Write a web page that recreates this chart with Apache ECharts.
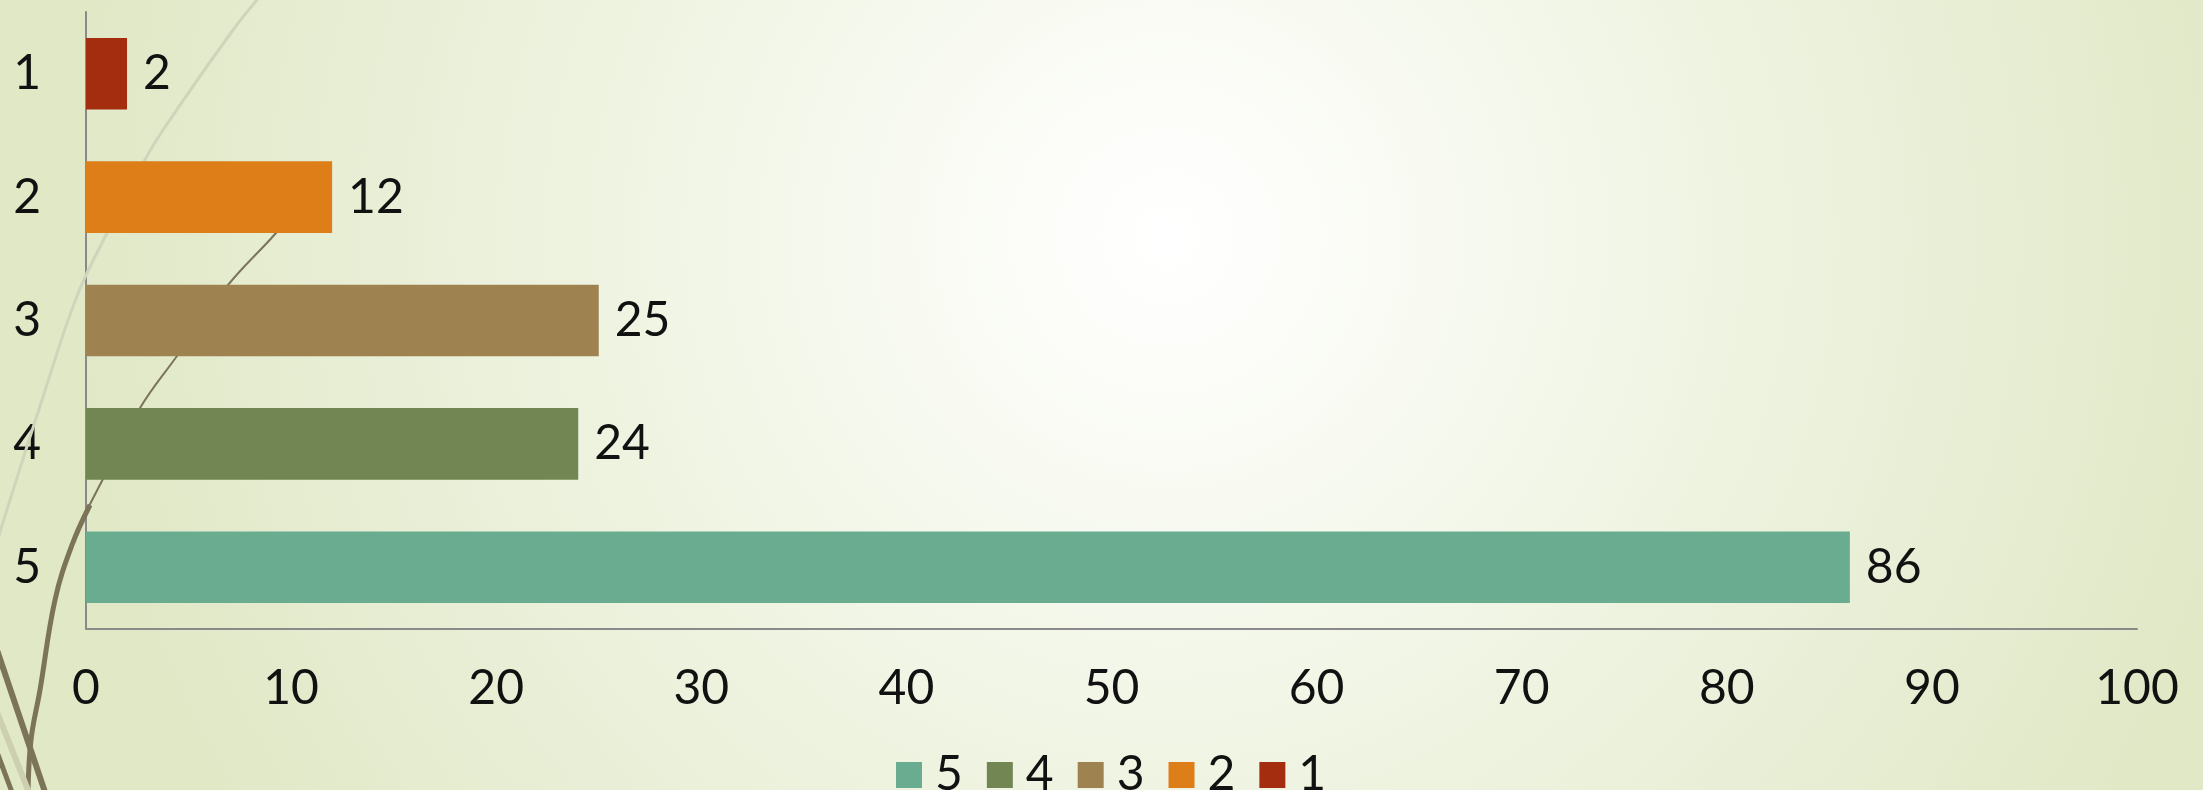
<!DOCTYPE html>
<html>
<head>
<meta charset="utf-8">
<title>bar</title>
<script src="https://cdn.jsdelivr.net/npm/echarts@6/dist/echarts.min.js"></script>
<style>
    html, body { margin: 0; padding: 0; }
    #main { width: 2203px; height: 790px; }
</style>
</head>
<body>
<div id="main"></div>
<script>
// data
var categories = ['1', '2', '3', '4', '5'];
var values = [2, 12, 25, 24, 86];
var colors = ['#a42c0f', '#de7e18', '#9e8250', '#718652', '#69ac90'];
var legendOrder = ['5', '4', '3', '2', '1'];
var xTicks = { min: 0, max: 100, interval: 10 };

var fontName = 'Lato, "Open Sans", sans-serif';

// one series per category so the legend lists each bar
var series = [];
for (var i = 0; i < categories.length; i++) {
    var d = [];
    for (var j = 0; j < categories.length; j++) {
        d.push(j == i ? values[i] : null);
    }
    series.push({
        name: categories[i],
        type: 'bar',
        stack: 'all',
        barCategoryGap: '42%',
        data: d,
        itemStyle: { color: colors[i] },
        label: {
            show: true,
            position: 'right',
            distance: 16,
            color: '#111',
            fontSize: 48,
            fontFamily: fontName
        }
    });
}

// background decoration (theme curves)
var deco = [
    {
        type: 'polyline', z: 1, silent: true,
        shape: { points: [[262, -6], [233, 30], [163, 130], [143, 163], [107, 233], [77, 296], [42, 400], [10, 500], [-4, 545]], smooth: 0.4 },
        style: { stroke: '#d0d4bb', lineWidth: 3, fill: null }
    },
    {
        type: 'polyline', z: 1, silent: true,
        shape: { points: [[320, 180], [276, 233], [228, 285], [177, 356], [140, 408], [103, 479], [87, 510]], smooth: 0.4 },
        style: { stroke: '#7b7458', lineWidth: 2, fill: null }
    },
    {
        type: 'polyline', z: 1, silent: true,
        shape: { points: [[90, 505], [72, 545], [55, 600], [40, 690], [31, 740], [28, 795]], smooth: 0.4 },
        style: { stroke: '#7b7458', lineWidth: 5, fill: null }
    },
    {
        type: 'line', z: 1, silent: true,
        shape: { x1: -3, y1: 650, x2: 46, y2: 795 },
        style: { stroke: '#7b7458', lineWidth: 6 }
    },
    {
        type: 'line', z: 1, silent: true,
        shape: { x1: -3, y1: 712, x2: 30, y2: 795 },
        style: { stroke: '#cdd0b0', lineWidth: 6 }
    },
    {
        type: 'line', z: 1, silent: true,
        shape: { x1: -3, y1: 752, x2: 13, y2: 795 },
        style: { stroke: '#7b7458', lineWidth: 5 }
    }
];

var option = {
    animation: false,
    backgroundColor: {
        type: 'radial',
        x: 0.53,
        y: 0.3,
        r: 1.4,
        colorStops: [
            { offset: 0, color: '#ffffff' },
            { offset: 0.12, color: '#fcfdf9' },
            { offset: 0.5, color: '#eff4e2' },
            { offset: 1, color: '#e0e8c6' }
        ]
    },
    graphic: deco,
    grid: {
        left: 86,
        right: 66,
        top: 12,
        bottom: 161
    },
    legend: {
        data: legendOrder,
        left: 891,
        top: 746,
        icon: 'rect',
        itemWidth: 26,
        itemHeight: 26,
        itemGap: 24,
        textStyle: {
            color: '#111',
            fontSize: 48,
            fontFamily: fontName,
            padding: [0, 0, 0, 8]
        }
    },
    xAxis: {
        type: 'value',
        min: xTicks.min,
        max: xTicks.max,
        interval: xTicks.interval,
        splitLine: { show: false },
        axisTick: { show: false },
        axisLine: { show: true, lineStyle: { color: '#8a8a8a', width: 2 } },
        axisLabel: {
            margin: 36,
            color: '#111',
            fontSize: 48,
            fontFamily: fontName
        }
    },
    yAxis: {
        type: 'category',
        inverse: true,
        data: categories,
        axisTick: { show: false },
        axisLine: { show: true, lineStyle: { color: '#8a8a8a', width: 2 } },
        axisLabel: {
            margin: 45,
            color: '#111',
            fontSize: 48,
            fontFamily: fontName
        }
    },
    series: series
};

var myChart = echarts.init(document.getElementById('main'));
myChart.setOption(option);
</script>
</body>
</html>
